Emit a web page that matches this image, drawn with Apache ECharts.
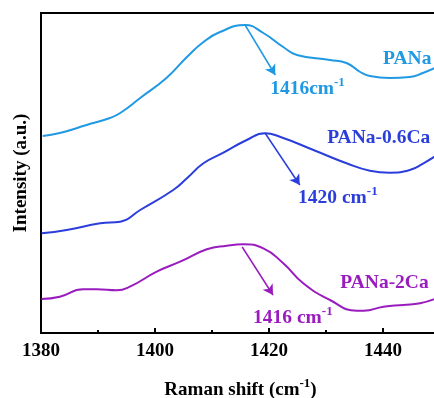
<!DOCTYPE html>
<html>
<head>
<meta charset="utf-8">
<script src="https://cdn.jsdelivr.net/npm/echarts@6/dist/echarts.min.js"></script>
<style>
  html, body { margin: 0; padding: 0; background: #fff; }
  #chart { width: 434px; height: 398px; }
</style>
</head>
<body>
<div id="chart"></div>
<script>
// Raman spectra, intensity in arbitrary units (offset per sample)
const panaX = [1380.3, 1383.3, 1388, 1392.1, 1393.9, 1397.4, 1402, 1405.6, 1408.5, 1411.4, 1415.8, 1419, 1422.5, 1424.9, 1430.7, 1433.6, 1436, 1437.7, 1441.2, 1444.7, 1447, 1449.5];
const panaY = [197, 200, 208, 215, 220, 235, 255, 276, 291, 301, 308, 300, 286, 278, 273, 270, 261, 257, 255, 256, 260, 266];

const ca06X = [1380.1, 1384.5, 1390.4, 1393.9, 1397.4, 1403.2, 1405.6, 1408.5, 1412, 1416.1, 1419.3, 1421.9, 1427.8, 1433.6, 1437.7, 1441.2, 1444.7, 1447.1, 1449.5];
const ca06Y = [99.7, 103, 109.7, 111.3, 123, 143, 154.7, 169.7, 180.3, 193, 199.7, 196.3, 183, 169.7, 162.3, 160.3, 163, 169.7, 178];

const ca2X = [1380.1, 1383.3, 1387.4, 1389.8, 1393.3, 1395.6, 1400.3, 1404.4, 1409.1, 1412.6, 1415.5, 1419, 1422.5, 1426, 1430.7, 1435.4, 1436.6, 1440.1, 1443.6, 1446.5, 1449.5];
const ca2Y = [34, 36.3, 43.7, 43.7, 42.7, 46.3, 61.3, 71.3, 83.7, 87.3, 88.7, 84.7, 69.7, 49.7, 33, 22.3, 22.3, 26.3, 28, 29.7, 35];

const names = ['PANa', 'PANa-0.6Ca', 'PANa-2Ca'];
const peakTexts = ['1416cm{sup|-1}', '1420 cm{sup|-1}', '1416 cm{sup|-1}'];
// arrow [start, end] and label anchors (left edge), in data units
const arrows = [
  [[1415.8, 308], [1421.1, 258]],
  [[1419.3, 200], [1425.4, 148]],
  [[1415.3, 86], [1420.7, 38]]
];
const nameAt = [[1440.0, 274], [1430.2, 195], [1432.5, 50]];
const peakAt = [[1420.2, 244], [1425.1, 135], [1417.2, 15]];
const colors = ['#2099e2', '#2b3edb', '#9a1cbf'];

const FONT = 'Liberation Serif';

function pairs(xs, ys) {
  return xs.map((x, i) => [x, ys[i]]);
}

const curves = [pairs(panaX, panaY), pairs(ca06X, ca06Y), pairs(ca2X, ca2Y)];

const series = curves.map((data, i) => ({
  name: names[i],
  type: 'line',
  data,
  smooth: 0.5,
  symbol: 'none',
  lineStyle: { color: colors[i], width: 2 },
  markLine: {
    silent: true,
    symbol: ['none', 'arrow'],
    symbolSize: [9, 10],
    lineStyle: { color: colors[i], width: 1.5, type: 'solid' },
    label: { show: false },
    data: [[{ coord: arrows[i][0] }, { coord: arrows[i][1] }]]
  },
  markPoint: {
    silent: true,
    symbol: 'circle',
    symbolSize: 0,
    label: {
      show: true,
      position: 'inside',
      align: 'left',
      verticalAlign: 'middle',
      color: colors[i],
      fontFamily: FONT,
      fontWeight: 'bold',
      fontSize: 19.5,
      rich: {
        sup: { fontSize: 13, fontFamily: FONT, fontWeight: 'bold', color: colors[i], padding: [0, 0, 13, 0] }
      }
    },
    data: [
      { coord: nameAt[i], label: { formatter: names[i] } },
      { coord: peakAt[i], label: { formatter: peakTexts[i] } }
    ]
  }
}));

const chart = echarts.init(document.getElementById('chart'));
chart.setOption({
  animation: false,
  backgroundColor: '#fff',
  grid: {
    left: 41, top: 13, width: 399, height: 320,
    outerBoundsMode: 'none',
    show: true, borderColor: '#000', borderWidth: 2
  },
  xAxis: {
    type: 'value',
    min: 1380, max: 1450, interval: 20,
    name: 'Raman shift (cm{sup|-1})',
    nameLocation: 'middle',
    nameGap: 44,
    nameTextStyle: {
      fontFamily: FONT, fontWeight: 'bold', fontSize: 19, color: '#000',
      rich: { sup: { fontFamily: FONT, fontWeight: 'bold', fontSize: 13, color: '#000', padding: [0, 0, 13, 0] } }
    },
    axisLine: { lineStyle: { color: '#000', width: 2 } },
    axisTick: { inside: true, length: 5, lineStyle: { color: '#000', width: 2 } },
    minorTick: { show: true, splitNumber: 2, length: 3, lineStyle: { color: '#000', width: 2 } },
    axisLabel: {
      margin: 9, color: '#000', fontFamily: FONT, fontWeight: 'bold', fontSize: 19,
      showMaxLabel: false,
      formatter: (v) => String(v)
    },
    splitLine: { show: false },
    minorSplitLine: { show: false }
  },
  yAxis: {
    type: 'value',
    min: 0, max: 320,
    name: 'Intensity (a.u.)',
    nameLocation: 'middle',
    nameGap: 10,
    nameTextStyle: { fontFamily: FONT, fontWeight: 'bold', fontSize: 19, color: '#000' },
    axisLine: { show: true, lineStyle: { color: '#000', width: 2 } },
    axisTick: { show: false },
    axisLabel: { show: false },
    splitLine: { show: false }
  },
  series
});
</script>
</body>
</html>
